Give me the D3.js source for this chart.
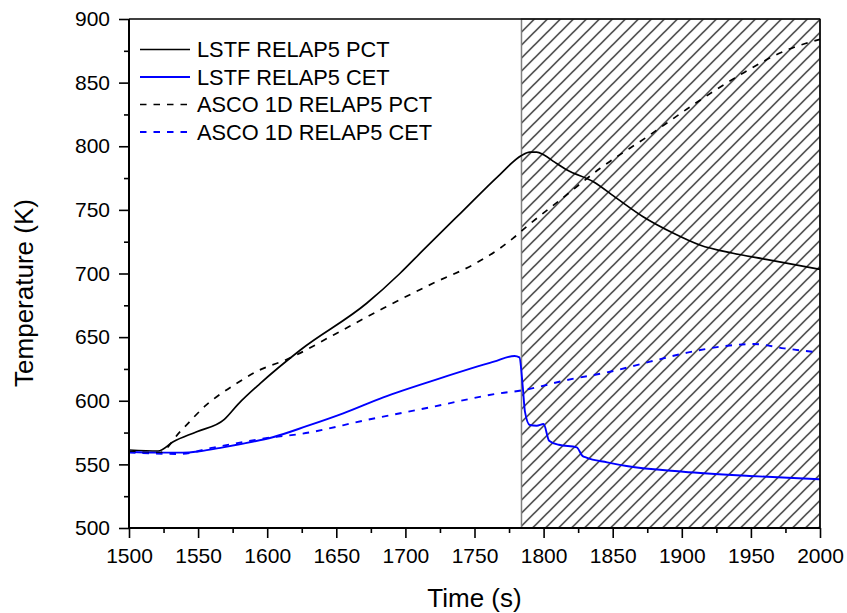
<!DOCTYPE html>
<html>
<head>
<meta charset="utf-8">
<script src="https://cdn.jsdelivr.net/npm/d3@7"></script>
<style>
  html, body { margin: 0; padding: 0; background: #fff; }
  svg { display: block; font-family: "Liberation Sans", Arial, sans-serif; }
</style>
</head>
<body>
<svg id="chart" width="847" height="613"></svg>
<script>
// ---- data ----
const lstfPctTime = [1500,1521,1532,1549,1569,1579,1595,1624,1672,1696,1713,1740,1768,1784,1790,1795,1800,1808,1817,1836,1853,1872,1894,1913,1937,1961,2000];
const lstfPctTemp = [561.3,560.5,567.8,575.7,585.4,597.4,613.7,639.9,676.6,700,718.5,747.5,777.4,792.8,795.4,795.4,793.3,787.5,781.3,772.1,759,744.6,731.6,722.4,715.9,711.1,703.3];

const lstfCetTime = [1500,1521,1539,1551,1568,1580,1604,1629,1655,1684,1725,1764,1779,1782.5,1785,1786.5,1790,1795,1800,1804,1811,1824,1828,1831,1846,1860,1901,1949,2000];
const lstfCetTemp = [559.9,559.2,559.2,560.3,563.4,565.8,571.3,580.2,590.1,602.7,617.6,630.7,635.2,634.1,610,591.4,580.9,580.4,581.7,568.6,565.4,563.4,556.8,555.3,551.6,548.7,544.2,540.9,538.3];

const ascoPctTime = [1500,1522,1537,1556,1578,1592,1616,1648,1684,1720,1750,1768,1778,1790,1812,1841,1875,1908,1942,1976,1990,2000];
const ascoPctTemp = [560,559.2,575.7,596.7,613.7,622.8,633.3,651.7,672.7,692.3,707.5,719.5,727.8,738.9,757.8,782.7,807.5,832.4,856,875.6,880.9,884];

const ascoCetTime = [1500,1537,1561,1604,1624,1672,1720,1768,1784,1817,1848,1877,1904,1928,1952,1974,2000];
const ascoCetTemp = [559.2,558.2,563.2,571.3,573.9,584.9,595.3,605.8,608.1,616.3,622.8,630.7,637.8,642.5,644.6,641.2,637.8];

const seriesNames = ["LSTF RELAP5 PCT","LSTF RELAP5 CET","ASCO 1D RELAP5 PCT","ASCO 1D RELAP5 CET"];
const xTicks = [1500,1550,1600,1650,1700,1750,1800,1850,1900,1950,2000];
const yTicks = [500,550,600,650,700,750,800,850,900];
const hatchStart = 1784;

// ---- layout ----
const svg = d3.select("#chart");
const L = 129, R = 820, T = 19, B = 528;
const x = d3.scaleLinear().domain([1500,2000]).range([L,R]);
const y = d3.scaleLinear().domain([500,900]).range([B,T]);

// hatch pattern
const hs = 13;
const defs = svg.append("defs");
const pat = defs.append("pattern").attr("id","hatch").attr("patternUnits","userSpaceOnUse")
  .attr("width",hs).attr("height",hs).attr("x", x(hatchStart)).attr("y", T);
pat.append("path").attr("d",`M-1,${hs+1} L${hs+1},-1 M-1,1 L1,-1 M${hs-1},${hs+1} L${hs+1},${hs-1}`)
  .attr("stroke","#000").attr("stroke-width",1.2).attr("fill","none");

svg.append("rect")
  .attr("x", x(hatchStart)).attr("y", T)
  .attr("width", x(2000)-x(hatchStart)).attr("height", B-T)
  .attr("fill","url(#hatch)")
  .attr("stroke","#7f7f7f").attr("stroke-width",1.5);

// series lines
const mk = (ts, vs) => ts.map((t,i)=>({t, v: vs[i]}));
const line = d3.line().x(d=>x(d.t)).y(d=>y(d.v)).curve(d3.curveMonotoneX);
const series = [
  {data: mk(lstfPctTime,lstfPctTemp), color:"#000", dash:null, w:1.7},
  {data: mk(lstfCetTime,lstfCetTemp), color:"#0000ff", dash:null, w:1.9},
  {data: mk(ascoPctTime,ascoPctTemp), color:"#000", dash:"6.5,7", w:1.7},
  {data: mk(ascoCetTime,ascoCetTemp), color:"#0000ff", dash:"6.5,7", w:1.9}
];
series.forEach(s=>{
  svg.append("path").datum(s.data).attr("d",line)
    .attr("fill","none").attr("stroke",s.color).attr("stroke-width",s.w)
    .attr("stroke-dasharray",s.dash).attr("stroke-linejoin","round");
});

// frame (top & right)
svg.append("line").attr("x1",L).attr("x2",R).attr("y1",T).attr("y2",T).attr("stroke","#000").attr("stroke-width",1.6);
svg.append("line").attr("x1",R).attr("x2",R).attr("y1",T).attr("y2",B).attr("stroke","#000").attr("stroke-width",1.6);

// axes
const minorX = d3.range(1525,2000,50);
const minorY = d3.range(525,900,50);
const gx = svg.append("g").attr("transform",`translate(0,${B})`)
  .call(d3.axisBottom(x).tickValues(xTicks).tickSize(10).tickPadding(10).tickFormat(d3.format("d")));
svg.append("g").attr("transform",`translate(0,${B})`)
  .call(d3.axisBottom(x).tickValues(minorX).tickSize(5).tickFormat(""))
  .call(g=>g.select(".domain").remove());
const gy = svg.append("g").attr("transform",`translate(${L},0)`)
  .call(d3.axisLeft(y).tickValues(yTicks).tickSize(10).tickPadding(9).tickFormat(d3.format("d")));
svg.append("g").attr("transform",`translate(${L},0)`)
  .call(d3.axisLeft(y).tickValues(minorY).tickSize(5).tickFormat(""))
  .call(g=>g.select(".domain").remove());
svg.selectAll(".domain").attr("stroke","#000").attr("stroke-width",2);
svg.selectAll(".tick line").attr("stroke","#000").attr("stroke-width",1.6);
svg.selectAll(".tick text").attr("font-size",21).attr("fill","#000")
  .attr("font-family",'"Liberation Sans", Arial, sans-serif');
gx.select(".domain").attr("d",`M${L},0H${R}`);
gy.select(".domain").attr("d",`M0,${B}V${T}`);

// axis titles
svg.append("text").attr("x",(L+R)/2).attr("y",607).attr("text-anchor","middle")
  .attr("font-size",26).text("Time (s)");
svg.append("text").attr("transform","translate(33,293) rotate(-90)").attr("text-anchor","middle")
  .attr("font-size",26).text("Temperature (K)");

// legend
const legY = [49.5,77,104.5,132];
series.forEach((s,i)=>{
  svg.append("line").attr("x1",140).attr("x2",190).attr("y1",legY[i]).attr("y2",legY[i])
    .attr("stroke",s.color).attr("stroke-width",s.w).attr("stroke-dasharray",s.dash);
  svg.append("text").attr("x",197).attr("y",legY[i]+7.8).attr("font-size",21.8)
    .attr("fill","#000").text(seriesNames[i]);
});
</script>
</body>
</html>
